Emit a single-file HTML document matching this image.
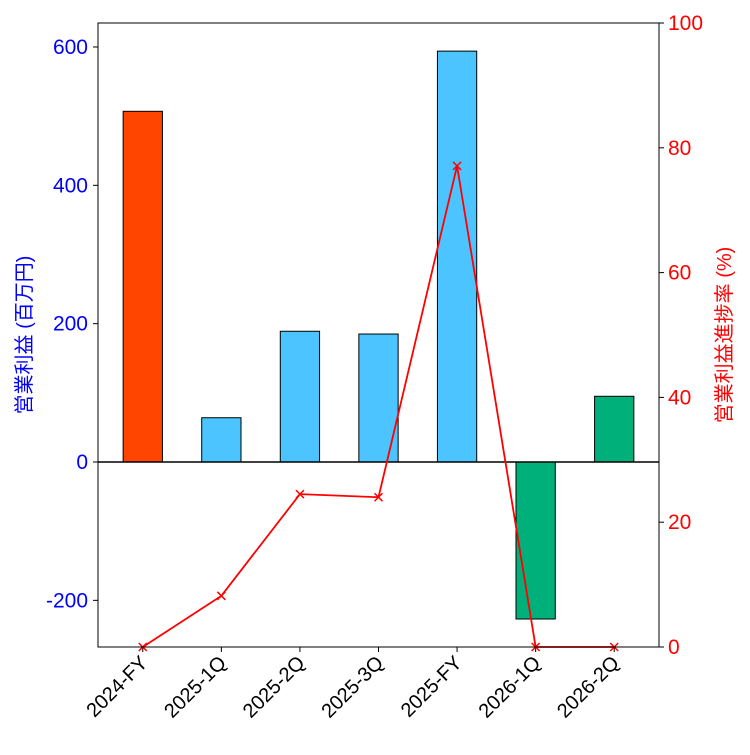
<!DOCTYPE html>
<html><head><meta charset="utf-8"><style>
body{margin:0;background:#fff;}
text{font-family:"Liberation Sans","Noto Sans CJK JP",sans-serif;}
</style></head><body>
<svg id="chart" width="750" height="750" xmlns="http://www.w3.org/2000/svg"></svg>
<script>
const categories=["2024-FY","2025-1Q","2025-2Q","2025-3Q","2025-FY","2026-1Q","2026-2Q"];
const profitValues=[507,64,189,185,594,-227,95];
const progressValues=[0,8.2,24.5,24,77.1,0,0];
const barColors=["#FF4500","#4CC4FF","#4CC4FF","#4CC4FF","#4CC4FF","#00B07A","#00B07A"];
const leftTicks=[-200,0,200,400,600];
const rightTicks=[0,20,40,60,80,100];
const svg=document.getElementById('chart');
const NS="http://www.w3.org/2000/svg";
const L=98,R=659,T=23,B=647;
const yL=v=>462-v*0.6917;
const yR=v=>B-(v/100)*(B-T);
const step=(R-L)/(categories.length-1+1.14);
const x=i=>L+step*(0.57+i);
function mk(tag,attrs,name,txt){const e=document.createElementNS(NS,tag);for(const k in attrs)e.setAttribute(k,attrs[k]);


if(txt!==undefined)e.textContent=txt;svg.appendChild(e);return e;}
categories.forEach((c,i)=>{const v=profitValues[i];const y0=yL(0),y1=yL(v);
mk('rect',{x:x(i)-step*0.25,y:Math.min(y0,y1),width:step*0.5,height:Math.abs(y1-y0),fill:barColors[i],stroke:'#000','stroke-width':1},'bar-'+c);
mk('line',{x1:x(i),x2:x(i),y1:B,y2:B+5,stroke:'#000'},'x-tick');
const tx=x(i)+6,ty=B+17;
mk('text',{x:tx,y:ty,'font-size':20,'text-anchor':'end',transform:`rotate(-45 ${tx} ${ty})`},'x-tick-label',c);});
mk('line',{x1:L,x2:R,y1:yL(0),y2:yL(0),stroke:'#000','stroke-width':1.5},'zero-line');
mk('polyline',{points:progressValues.map((v,i)=>x(i)+','+yR(v)).join(' '),fill:'none',stroke:'#FF0000','stroke-width':1.8},'progress-line');
progressValues.forEach((v,i)=>{const px=x(i),py=yR(v);
mk('path',{d:`M${px-4},${py-4}L${px+4},${py+4}M${px-4},${py+4}L${px+4},${py-4}`,stroke:'#FF0000','stroke-width':1.5},'progress-marker');});
mk('rect',{x:L,y:T,width:R-L,height:B-T,fill:'none',stroke:'#000'},'plot-frame');
leftTicks.forEach(t=>{const y=yL(t);mk('line',{x1:L-5,x2:L,y1:y,y2:y,stroke:'#000'},'y-left-tick');
mk('text',{x:L-10,y:y+7,'font-size':21,'text-anchor':'end',fill:'#0000FF'},'y-left-tick-label',t);});
rightTicks.forEach(t=>{const y=yR(t);mk('line',{x1:R,x2:R+5,y1:y,y2:y,stroke:'#000'},'y-right-tick');
mk('text',{x:R+9,y:y+7,'font-size':21,fill:'#FF0000'},'y-right-tick-label',t);});
mk('text',{x:31,y:335,'font-size':20,'text-anchor':'middle',fill:'#0000FF',transform:'rotate(-90 31 335)'},'y-left-axis-title','営業利益 (百万円)');
mk('text',{x:731,y:335,'font-size':20,'text-anchor':'middle',fill:'#FF0000',transform:'rotate(-90 731 335)'},'y-right-axis-title','営業利益進捗率 (%)');
</script>
</body></html>
